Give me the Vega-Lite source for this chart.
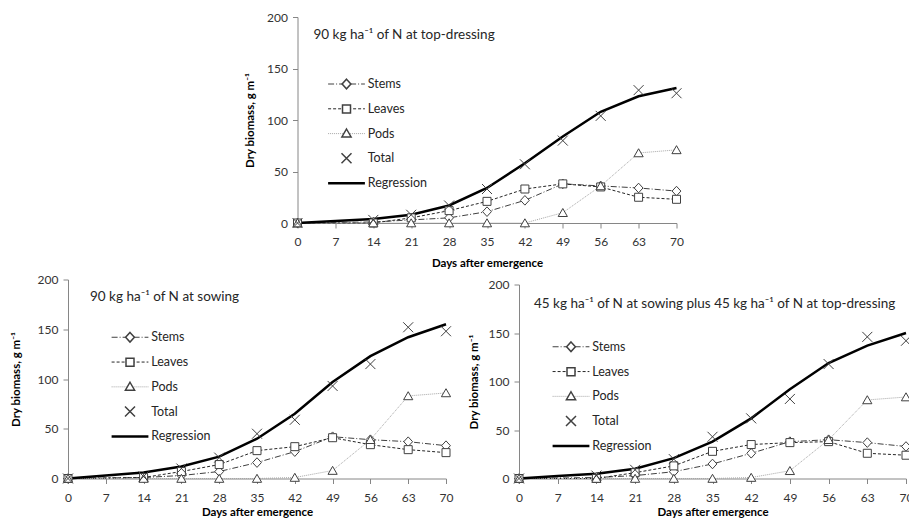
{
  "$schema": "https://vega.github.io/schema/vega-lite/v6.json",
  "padding": {"left": 10, "top": 11, "right": 0, "bottom": 0},
  "datasets": {
    "d": [
      {"panel": "A", "day": 0, "Stems": 0, "Leaves": 0, "Pods": 0, "Total": 0, "Regression": 0},
      {"panel": "A", "day": 7, "Regression": 2},
      {"panel": "A", "day": 14, "Stems": 1, "Leaves": 0, "Pods": 0, "Total": 3, "Regression": 4},
      {"panel": "A", "day": 21, "Stems": 3, "Leaves": 5, "Pods": 0, "Total": 8, "Regression": 8},
      {"panel": "A", "day": 28, "Stems": 5, "Leaves": 12, "Pods": 0, "Total": 17, "Regression": 17},
      {"panel": "A", "day": 35, "Stems": 11, "Leaves": 21, "Pods": 0, "Total": 33, "Regression": 34},
      {"panel": "A", "day": 42, "Stems": 22, "Leaves": 33, "Pods": 0, "Total": 57, "Regression": 58},
      {"panel": "A", "day": 49, "Stems": 38, "Leaves": 38, "Pods": 10, "Total": 80, "Regression": 84},
      {"panel": "A", "day": 56, "Stems": 36, "Leaves": 35, "Pods": 36, "Total": 104, "Regression": 108},
      {"panel": "A", "day": 63, "Stems": 34, "Leaves": 25, "Pods": 68, "Total": 129, "Regression": 123},
      {"panel": "A", "day": 70, "Stems": 31, "Leaves": 23, "Pods": 71, "Total": 126, "Regression": 131},
      {"panel": "B", "day": 0, "Stems": 0, "Leaves": 0, "Pods": 0, "Total": 0, "Regression": 0},
      {"panel": "B", "day": 7, "Regression": 3},
      {"panel": "B", "day": 14, "Stems": 1, "Leaves": 1, "Pods": 0, "Total": 2, "Regression": 6},
      {"panel": "B", "day": 21, "Stems": 3, "Leaves": 7, "Pods": 0, "Total": 10, "Regression": 12},
      {"panel": "B", "day": 28, "Stems": 7, "Leaves": 14, "Pods": 0, "Total": 21, "Regression": 22},
      {"panel": "B", "day": 35, "Stems": 16, "Leaves": 28, "Pods": 0, "Total": 45, "Regression": 40},
      {"panel": "B", "day": 42, "Stems": 27, "Leaves": 32, "Pods": 1, "Total": 59, "Regression": 65},
      {"panel": "B", "day": 49, "Stems": 42, "Leaves": 41, "Pods": 8, "Total": 93, "Regression": 97},
      {"panel": "B", "day": 56, "Stems": 39, "Leaves": 34, "Pods": 39, "Total": 115, "Regression": 123},
      {"panel": "B", "day": 63, "Stems": 37, "Leaves": 29, "Pods": 83, "Total": 152, "Regression": 142},
      {"panel": "B", "day": 70, "Stems": 33, "Leaves": 26, "Pods": 86, "Total": 148, "Regression": 155},
      {"panel": "C", "day": 0, "Stems": 0, "Leaves": 0, "Pods": 0, "Total": 0, "Regression": 0},
      {"panel": "C", "day": 7, "Regression": 2.5},
      {"panel": "C", "day": 14, "Stems": 1, "Leaves": 0, "Pods": 0, "Total": 3, "Regression": 5},
      {"panel": "C", "day": 21, "Stems": 3, "Leaves": 6, "Pods": 0, "Total": 9, "Regression": 10},
      {"panel": "C", "day": 28, "Stems": 7, "Leaves": 13, "Pods": 0, "Total": 20, "Regression": 21},
      {"panel": "C", "day": 35, "Stems": 15, "Leaves": 28, "Pods": 0, "Total": 43, "Regression": 38},
      {"panel": "C", "day": 42, "Stems": 26, "Leaves": 35, "Pods": 1, "Total": 62, "Regression": 62},
      {"panel": "C", "day": 49, "Stems": 38, "Leaves": 37, "Pods": 8, "Total": 82, "Regression": 92},
      {"panel": "C", "day": 56, "Stems": 40, "Leaves": 38, "Pods": 40, "Total": 118, "Regression": 119},
      {"panel": "C", "day": 63, "Stems": 37, "Leaves": 26, "Pods": 81, "Total": 146, "Regression": 137},
      {"panel": "C", "day": 70, "Stems": 33, "Leaves": 24, "Pods": 84, "Total": 142, "Regression": 150}
    ]
  },
  "config": {
    "view": {"stroke": null},
    "axis": {
      "grid": false, "domainColor": "#868686", "tickColor": "#868686", "tickSize": 5,
      "labelFont": "Lato", "labelFontSize": 12, "labelColor": "#333333", "labelFlush": false,
      "titleFont": "Lato", "titleFontSize": 11.5, "titleFontWeight": "bold", "titleColor": "#000000"
    },
    "axisX": {"labelAngle": 0, "labelPadding": 8.5},
    "axisY": {"labelPadding": 5},
    "title": {"anchor": "start", "frame": "group", "orient": "top", "offset": -14, "baseline": "middle", "font": "Lato", "fontSize": 13.5, "fontWeight": "normal", "color": "#262626"}
  },
  "resolve": {
    "scale": {"color": "independent", "strokeDash": "independent", "shape": "independent"},
    "legend": {"color": "independent", "strokeDash": "independent", "shape": "independent"}
  },
  "center": true,
  "spacing": 4.5,
  "vconcat": [
    {
      "width": 379, "height": 206,
      "data": {"name": "d"},
      "transform": [
        {"filter": "datum.panel === 'A'"},
        {"fold": ["Stems", "Leaves", "Pods", "Total", "Regression"], "as": ["series", "value"]},
        {"filter": "isValid(datum.value)"}
      ],
      "title": {"text": "90 kg ha⁻¹ of N at top-dressing", "dx": 16, "dy": 16},
      "encoding": {
        "x": {"field": "day", "type": "quantitative", "scale": {"domain": [0, 70], "nice": false}, "axis": {"values": [0, 7, 14, 21, 28, 35, 42, 49, 56, 63, 70], "title": "Days after emergence", "titlePadding": 10}},
        "y": {"field": "value", "type": "quantitative", "scale": {"domain": [0, 200], "nice": false}, "axis": {"values": [0, 50, 100, 150, 200], "title": "Dry biomass,  g m⁻¹", "titlePadding": 11}}
      },
      "layer": [
        {
          "transform": [{"filter": "datum.series === 'Stems' || datum.series === 'Leaves' || datum.series === 'Pods'"}],
          "mark": {"type": "line", "strokeWidth": 1},
          "encoding": {
            "color": {"field": "series", "type": "nominal",
              "scale": {"domain": ["Stems", "Leaves", "Pods", "Total", "Regression"], "range": ["#404040", "#262626", "#a6a6a6", "#808080", "#000000"]},
              "legend": {"title": null, "orient": "none", "legendX": 42.75, "legendY": 60.75, "padding": 0, "symbolType": "M-4.6,0L4.6,0", "symbolSize": 64, "labelFont": "Lato", "labelFontSize": 12.5, "labelColor": "#262626", "labelOffset": 15, "rowPadding": 11.8, "symbolOffset": 0,
                "encode": {"symbols": {"update": {"strokeWidth": {"signal": "datum.value === 'Regression' ? 2.5 : datum.value === 'Total' ? 0 : 1"}}}}}},
            "strokeDash": {"field": "series", "type": "nominal",
              "scale": {"domain": ["Stems", "Leaves", "Pods", "Total", "Regression"], "range": [[6, 2, 1, 2], [3, 2], [1, 1], [1, 0], [1, 0]]}}
          }
        },
        {
          "transform": [{"filter": "datum.series === 'Regression'"}],
          "mark": {"type": "line", "color": "#000000", "strokeWidth": 2.5},
          "encoding": {}
        },
        {
          "transform": [{"filter": "datum.series !== 'Regression'"}],
          "mark": {"type": "point", "filled": true, "fill": "white", "stroke": "#404040", "strokeWidth": 1, "size": 64, "opacity": 1},
          "encoding": {
            "shape": {"field": "series", "type": "nominal",
              "scale": {"domain": ["Stems", "Leaves", "Pods", "Total", "Regression", " "], "range": ["M0,-1.2L1.1,0L0,1.2L-1.1,0Z", "M-1,-1L1,-1L1,1L-1,1Z", "M0,-1.05L1.15,0.95L-1.15,0.95Z", "M-1.25,-1.25L1.25,1.25M-1.25,1.25L1.25,-1.25", "M0,0L0,0", "M0,0L0,0"]},
              "legend": {"title": null, "orient": "none", "legendX": 42.75, "legendY": 60.75, "padding": 0, "symbolSize": 64, "labelFont": "Lato", "labelFontSize": 12.5, "labelOpacity": 0, "labelOffset": 15, "rowPadding": 9.1, "symbolOffset": 0,
                "encode": {"symbols": {"update": {"size": {"value": 64}, "strokeWidth": {"value": 1}, "fill": {"value": "white"}, "stroke": {"value": "#404040"}}}}}}
          }
        }
      ]
    },
    {
      "spacing": 15,
      "resolve": {
        "scale": {"color": "independent", "strokeDash": "independent", "shape": "independent"},
        "legend": {"color": "independent", "strokeDash": "independent", "shape": "independent"}
      },
      "hconcat": [
        {
          "width": 378, "height": 199,
          "data": {"name": "d"},
          "transform": [
            {"filter": "datum.panel === 'B'"},
            {"fold": ["Stems", "Leaves", "Pods", "Total", "Regression"], "as": ["series", "value"]},
            {"filter": "isValid(datum.value)"}
          ],
          "title": {"text": "90 kg ha⁻¹ of N at sowing", "dx": 22, "dy": 16},
          "encoding": {
            "x": {"field": "day", "type": "quantitative", "scale": {"domain": [0, 70], "nice": false}, "axis": {"values": [0, 7, 14, 21, 28, 35, 42, 49, 56, 63, 70], "title": "Days after emergence", "titlePadding": 3.5}},
            "y": {"field": "value", "type": "quantitative", "scale": {"domain": [0, 200], "nice": false}, "axis": {"values": [0, 50, 100, 150, 200], "title": "Dry biomass,  g m⁻¹", "titlePadding": 16}}
          },
          "layer": [
            {
              "transform": [{"filter": "datum.series === 'Stems' || datum.series === 'Leaves' || datum.series === 'Pods'"}],
              "mark": {"type": "line", "strokeWidth": 1},
              "encoding": {
                "color": {"field": "series", "type": "nominal",
                  "scale": {"domain": ["Stems", "Leaves", "Pods", "Total", "Regression"], "range": ["#404040", "#262626", "#a6a6a6", "#808080", "#000000"]},
                  "legend": {"title": null, "orient": "none", "legendX": 55.75, "legendY": 51.5, "padding": 0, "symbolType": "M-4.6,0L4.6,0", "symbolSize": 64, "labelFont": "Lato", "labelFontSize": 12.5, "labelColor": "#262626", "labelOffset": 15, "rowPadding": 11.8, "symbolOffset": 0,
                    "encode": {"symbols": {"update": {"strokeWidth": {"signal": "datum.value === 'Regression' ? 2.5 : datum.value === 'Total' ? 0 : 1"}}}}}},
                "strokeDash": {"field": "series", "type": "nominal",
                  "scale": {"domain": ["Stems", "Leaves", "Pods", "Total", "Regression"], "range": [[6, 2, 1, 2], [3, 2], [1, 1], [1, 0], [1, 0]]}}
              }
            },
            {
              "transform": [{"filter": "datum.series === 'Regression'"}],
              "mark": {"type": "line", "color": "#000000", "strokeWidth": 2.5},
              "encoding": {}
            },
            {
              "transform": [{"filter": "datum.series !== 'Regression'"}],
              "mark": {"type": "point", "filled": true, "fill": "white", "stroke": "#404040", "strokeWidth": 1, "size": 64, "opacity": 1},
              "encoding": {
                "shape": {"field": "series", "type": "nominal",
                  "scale": {"domain": ["Stems", "Leaves", "Pods", "Total", "Regression", " "], "range": ["M0,-1.2L1.1,0L0,1.2L-1.1,0Z", "M-1,-1L1,-1L1,1L-1,1Z", "M0,-1.05L1.15,0.95L-1.15,0.95Z", "M-1.25,-1.25L1.25,1.25M-1.25,1.25L1.25,-1.25", "M0,0L0,0", "M0,0L0,0"]},
                  "legend": {"title": null, "orient": "none", "legendX": 55.75, "legendY": 51.5, "padding": 0, "symbolSize": 64, "labelFont": "Lato", "labelFontSize": 12.5, "labelOpacity": 0, "labelOffset": 15, "rowPadding": 9.1, "symbolOffset": 0,
                    "encode": {"symbols": {"update": {"size": {"value": 64}, "strokeWidth": {"value": 1}, "fill": {"value": "white"}, "stroke": {"value": "#404040"}}}}}}
              }
            }
          ]
        },
        {
          "spacing": 0,
          "bounds": "flush",
          "resolve": {
            "scale": {"color": "independent", "strokeDash": "independent", "shape": "independent"},
            "legend": {"color": "independent", "strokeDash": "independent", "shape": "independent"}
          },
          "vconcat": [
            {"width": 387, "height": 5, "data": {"values": []}, "mark": "point"},
            {
              "width": 387, "height": 194,
              "data": {"name": "d"},
              "transform": [
                {"filter": "datum.panel === 'C'"},
                {"fold": ["Stems", "Leaves", "Pods", "Total", "Regression"], "as": ["series", "value"]},
                {"filter": "isValid(datum.value)"}
              ],
              "title": {"text": "45 kg ha⁻¹ of N at sowing plus 45 kg ha⁻¹ of N at top-dressing", "dx": 15, "dy": 18},
              "encoding": {
                "x": {"field": "day", "type": "quantitative", "scale": {"domain": [0, 70], "nice": false}, "axis": {"values": [0, 7, 14, 21, 28, 35, 42, 49, 56, 63, 70], "title": "Days after emergence", "titlePadding": 3.5}},
                "y": {"field": "value", "type": "quantitative", "scale": {"domain": [0, 200], "nice": false}, "axis": {"values": [0, 50, 100, 150, 200], "title": "Dry biomass,  g m⁻¹", "titlePadding": 9}}
              },
              "layer": [
                {
                  "transform": [{"filter": "datum.series === 'Stems' || datum.series === 'Leaves' || datum.series === 'Pods'"}],
                  "mark": {"type": "line", "strokeWidth": 1},
                  "encoding": {
                    "color": {"field": "series", "type": "nominal",
                      "scale": {"domain": ["Stems", "Leaves", "Pods", "Total", "Regression"], "range": ["#404040", "#262626", "#a6a6a6", "#808080", "#000000"]},
                      "legend": {"title": null, "orient": "none", "legendX": 45.75, "legendY": 56, "padding": 0, "symbolType": "M-4.6,0L4.6,0", "symbolSize": 64, "labelFont": "Lato", "labelFontSize": 12.5, "labelColor": "#262626", "labelOffset": 15, "rowPadding": 11.8, "symbolOffset": 0,
                        "encode": {"symbols": {"update": {"strokeWidth": {"signal": "datum.value === 'Regression' ? 2.5 : datum.value === 'Total' ? 0 : 1"}}}}}},
                    "strokeDash": {"field": "series", "type": "nominal",
                      "scale": {"domain": ["Stems", "Leaves", "Pods", "Total", "Regression"], "range": [[6, 2, 1, 2], [3, 2], [1, 1], [1, 0], [1, 0]]}}
                  }
                },
                {
                  "transform": [{"filter": "datum.series === 'Regression'"}],
                  "mark": {"type": "line", "color": "#000000", "strokeWidth": 2.5},
                  "encoding": {}
                },
                {
                  "transform": [{"filter": "datum.series !== 'Regression'"}],
                  "mark": {"type": "point", "filled": true, "fill": "white", "stroke": "#404040", "strokeWidth": 1, "size": 64, "opacity": 1},
                  "encoding": {
                    "shape": {"field": "series", "type": "nominal",
                      "scale": {"domain": ["Stems", "Leaves", "Pods", "Total", "Regression", " "], "range": ["M0,-1.2L1.1,0L0,1.2L-1.1,0Z", "M-1,-1L1,-1L1,1L-1,1Z", "M0,-1.05L1.15,0.95L-1.15,0.95Z", "M-1.25,-1.25L1.25,1.25M-1.25,1.25L1.25,-1.25", "M0,0L0,0", "M0,0L0,0"]},
                      "legend": {"title": null, "orient": "none", "legendX": 45.75, "legendY": 56, "padding": 0, "symbolSize": 64, "labelFont": "Lato", "labelFontSize": 12.5, "labelOpacity": 0, "labelOffset": 15, "rowPadding": 9.1, "symbolOffset": 0,
                        "encode": {"symbols": {"update": {"size": {"value": 64}, "strokeWidth": {"value": 1}, "fill": {"value": "white"}, "stroke": {"value": "#404040"}}}}}}
                  }
                }
              ]
            }
          ]
        }
      ]
    }
  ]
}
